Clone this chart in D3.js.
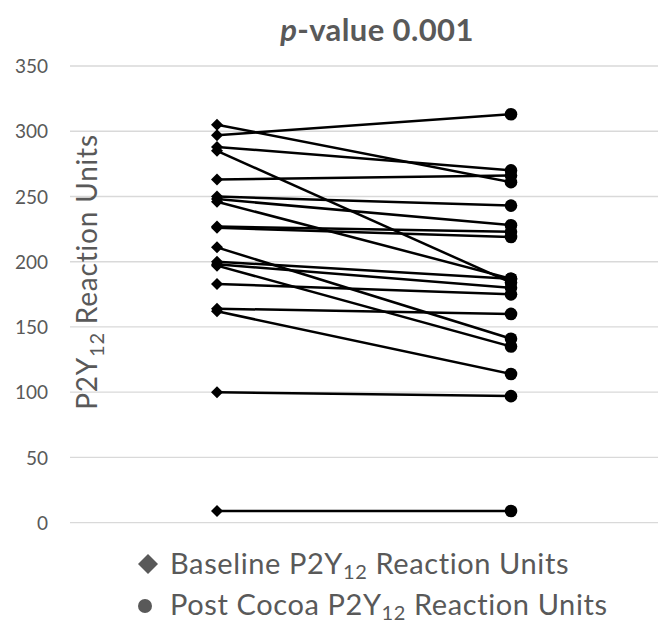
<!DOCTYPE html>
<html>
<head>
<meta charset="utf-8">
<script src="https://cdn.jsdelivr.net/npm/d3@7"></script>
<style>
  body { margin: 0; background: #fff; }
  text { font-family: Lato, "Open Sans", sans-serif; fill: #595959; }
</style>
</head>
<body>
<svg id="chart" width="662" height="624"></svg>
<script>
// Paired P2Y12 reaction units, one entry per subject
var groups = ['Baseline', 'Post Cocoa'];
var baseline = [305, 297, 288, 285, 263, 250, 248, 246, 227, 226, 211, 200, 198, 197, 183, 164, 162, 100, 9];
var postCocoa = [261, 313, 270, 184, 266, 243, 228, 187, 223, 219, 141, 187, 180, 135, 175, 160, 114, 97, 9];
var yTicks = [0, 50, 100, 150, 200, 250, 300, 350];

var svg = d3.select('#chart');

var x = d3.scalePoint().domain(groups).range([70, 658]).padding(0.5);
var y = d3.scaleLinear().domain([0, 350]).range([522.7, 66]);

// Gridlines
svg.append('g').selectAll('line')
  .data(yTicks)
  .enter().append('line')
  .attr('x1', 70).attr('x2', 658)
  .attr('y1', function(d) { return y(d); })
  .attr('y2', function(d) { return y(d); })
  .attr('stroke', '#d9d9d9')
  .attr('stroke-width', 1.3);

// Y axis labels
var yAxis = d3.axisLeft(y).tickValues(yTicks).tickSize(0).tickPadding(0);
var gy = svg.append('g').attr('transform', 'translate(48,0)').call(yAxis);
gy.select('.domain').remove();
gy.selectAll('text')
  .style('font-family', 'Lato, sans-serif')
  .style('font-size', '19px')
  .attr('fill', '#595959')
  .attr('dy', '0.35em');

// Title
var title = svg.append('text')
  .attr('x', 377).attr('y', 41)
  .attr('text-anchor', 'middle')
  .style('font-size', '31px')
  .style('font-weight', 'bold')
  .style('letter-spacing', '0.4px');
title.append('tspan').style('font-style', 'italic').text('p');
title.append('tspan').text('-value 0.001');

// Y axis title with subscript
var yTitle = svg.append('text')
  .attr('transform', 'translate(97,272) rotate(-90)')
  .attr('text-anchor', 'middle')
  .style('font-size', '28px')
  .style('letter-spacing', '0.8px');
yTitle.append('tspan').text('P2Y');
yTitle.append('tspan').attr('dy', 7).style('font-size', '20px').text('12');
yTitle.append('tspan').attr('dy', -7).text(' Reaction Units');

// Paired lines
var pairs = baseline.map(function(b, i) { return [b, postCocoa[i]]; });
var line = d3.line()
  .x(function(d, i) { return x(groups[i]); })
  .y(function(d) { return y(d); });

svg.append('g').selectAll('path')
  .data(pairs)
  .enter().append('path')
  .attr('d', line)
  .attr('fill', 'none')
  .attr('stroke', '#000')
  .attr('stroke-width', 2.5);

// Baseline markers (square turned 45 degrees)
var diamond = d3.symbol().type(d3.symbolSquare).size(72);
svg.append('g').selectAll('path')
  .data(baseline)
  .enter().append('path')
  .attr('d', diamond)
  .attr('transform', function(d) { return 'translate(' + x(groups[0]) + ',' + y(d) + ') rotate(45)'; })
  .attr('fill', '#000');

// Post cocoa markers (circles)
svg.append('g').selectAll('circle')
  .data(postCocoa)
  .enter().append('circle')
  .attr('cx', x(groups[1]))
  .attr('cy', function(d) { return y(d); })
  .attr('r', 6.3)
  .attr('fill', '#000');

// Legend
var legend = [
  { shape: 'diamond', label: 'Baseline', y: 564 },
  { shape: 'circle', label: 'Post Cocoa', y: 605 }
];
legend.forEach(function(item) {
  if (item.shape === 'diamond') {
    svg.append('path')
      .attr('d', d3.symbol().type(d3.symbolSquare).size(200))
      .attr('transform', 'translate(148,' + item.y + ') rotate(45)')
      .attr('fill', '#595959');
  } else {
    svg.append('circle')
      .attr('cx', 145).attr('cy', item.y + 1).attr('r', 7)
      .attr('fill', '#595959');
  }
  var t = svg.append('text')
    .attr('x', 170).attr('y', item.y + 10)
    .style('font-size', '29px')
    .style('letter-spacing', '0.6px');
  t.append('tspan').text(item.label + ' P2Y');
  t.append('tspan').attr('dy', 5).style('font-size', '20px').text('12');
  t.append('tspan').attr('dy', -5).text(' Reaction Units');
});
</script>
</body>
</html>
